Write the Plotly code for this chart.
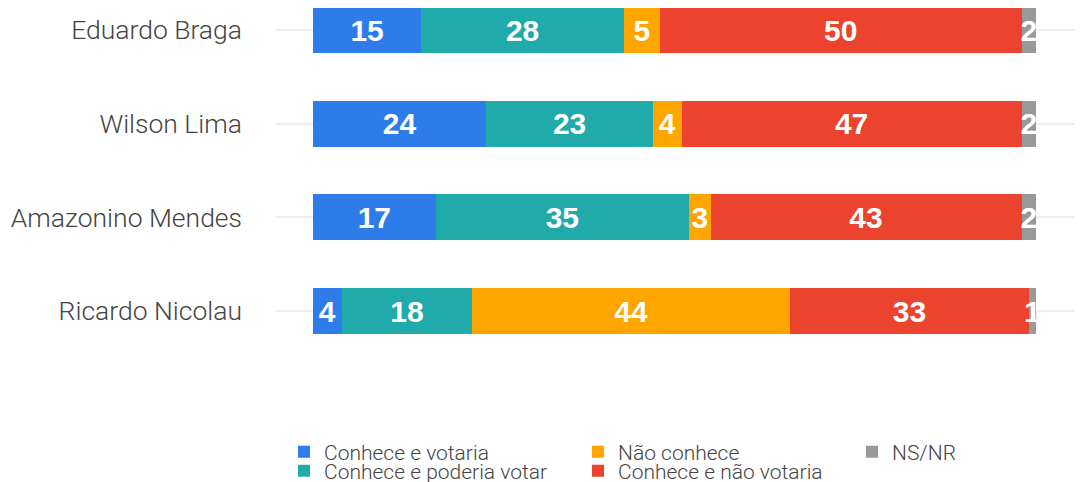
import plotly.graph_objects as go

categories = ["Ricardo Nicolau", "Amazonino Mendes", "Wilson Lima", "Eduardo Braga"]
series_names = ["Conhece e votaria", "Conhece e poderia votar", "Não conhece",
                "Conhece e não votaria", "NS/NR"]
votaria = [4, 17, 24, 15]
poderia = [18, 35, 23, 28]
nao_conhece = [44, 3, 4, 5]
nao_votaria = [33, 43, 47, 50]
nsnr = [1, 2, 2, 2]

series_values = [votaria, poderia, nao_conhece, nao_votaria, nsnr]
colors = ["#2E7BEA", "#20AAAA", "#FFA500", "#EB432D", "#999999"]
legend_ids = ["legend", "legend2", "legend", "legend2", "legend3"]

W, H = 1075, 474  # page body adds an 8px offset

fig = go.Figure()
for name, vals, col, lg in zip(series_names, series_values, colors, legend_ids):
    fig.add_trace(go.Bar(
        y=categories, x=vals, name=name, orientation="h",
        marker=dict(color=col, line=dict(width=0)),
        text=[str(v) for v in vals], textposition="inside",
        insidetextanchor="middle", constraintext="none",
        textfont=dict(family="Liberation Sans", size=30, color="white", weight="bold"),
        legend=lg, hoverinfo="x+name",
    ))

legend_font = dict(family="Roboto", size=21, color="#444444", weight=300)
common = dict(orientation="h", xref="container", yref="container",
              xanchor="left", yanchor="middle", traceorder="normal",
              entrywidth=249, entrywidthmode="pixels",
              font=legend_font, bgcolor="rgba(0,0,0,0)",
              itemclick=False, itemdoubleclick=False)

fig.update_layout(
    barmode="stack",
    bargap=0.51,
    width=W, height=H,
    margin=dict(l=268, r=0, t=0, b=102, autoexpand=False),
    paper_bgcolor="white", plot_bgcolor="white",
    showlegend=True,
    legend=dict(x=276 / W, y=(H - 444) / H, **common),
    legend2=dict(x=276 / W, y=(H - 463) / H, **common),
    legend3=dict(x=844 / W, y=(H - 444) / H, **common),
    xaxis=dict(range=[-5.1, 106.5], showgrid=False, zeroline=False,
               showticklabels=False, fixedrange=True),
    yaxis=dict(range=[-0.736, 3.235], showgrid=True, gridcolor="#EEEEEE", gridwidth=2,
               zeroline=False, ticklabelstandoff=33, automargin=False,
               tickfont=dict(family="Roboto", size=26.5, color="#444444", weight=300)),
)

fig.write_html("out.html")
